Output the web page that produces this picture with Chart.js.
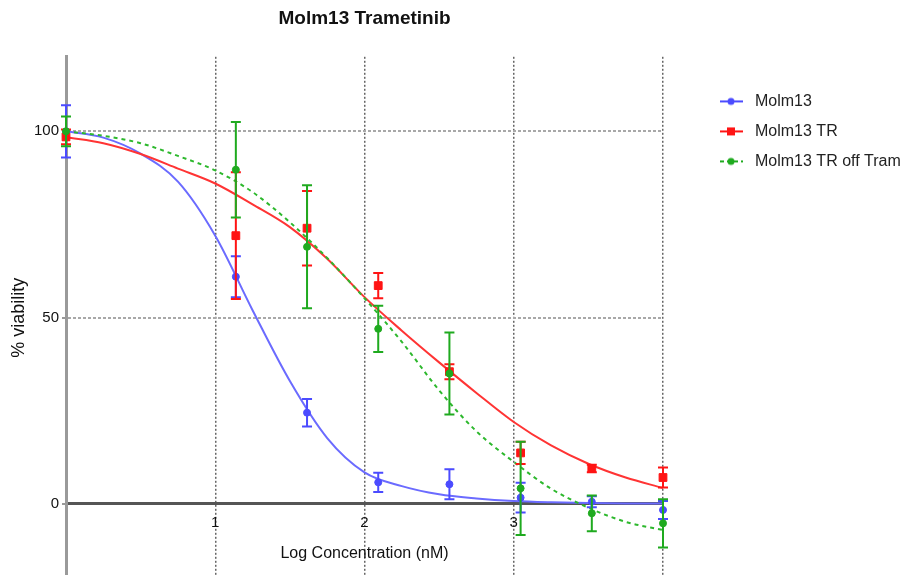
<!DOCTYPE html>
<html>
<head>
<meta charset="utf-8">
<script src="https://cdn.jsdelivr.net/npm/chart.js@4.4.1/dist/chart.umd.min.js"></script>
<style>
  html, body { margin: 0; padding: 0; background: #fff; overflow: hidden; }
  #wrap { position: relative; width: 902px; height: 585px; }
</style>
</head>
<body>
<div id="wrap"><canvas id="chart"></canvas></div>
<script>
// measured points (log nM) with SD
const logConc = [0, 1.138, 1.615, 2.092, 2.569, 3.046, 3.523, 4.0];

const molm13 = [100, 61, 24.5, 5.8, 5.3, 1.7, 0.6, -1.6];
const molm13Err = [7, 5.5, 3.7, 2.6, 4, 4, 1.5, 2.4];

const molm13TR = [98.5, 72, 74, 58.6, 35.5, 13.7, 9.5, 7.1];
const molm13TRErr = [2, 17, 10, 3.4, 2, 3, 1, 2.7];

const molm13Off = [100, 89.7, 69, 47, 35, 4.2, -2.5, -5.2];
const molm13OffErr = [4, 12.8, 16.5, 6.2, 11, 12.5, 4.8, 6.5];

// fitted curves
const fitX = [0, 0.25, 0.5, 0.75, 1, 1.25, 1.5, 1.75, 2, 2.25, 2.5, 2.75, 3, 3.25, 3.5, 3.75, 4];
const molm13Fit = [100, 98.3, 94, 86.5, 72, 52, 33, 17.7, 8.5, 4.8, 2.6, 1.5, 0.8, 0.45, 0.25, 0.15, 0.1];
const molm13TRFit = [98.4, 96.8, 93.9, 90, 86, 80.4, 74.3, 65.8, 55.5, 46.5, 38, 29.8, 22, 15.7, 10.8, 7.1, 4.3];
const molm13OffFit = [100, 98.8, 96.8, 93.4, 89.5, 83.7, 75.6, 66, 55.2, 43.5, 30.5, 19.5, 11.3, 4.1, -1, -4.8, -7];

const seriesNames = ['Molm13', 'Molm13 TR', 'Molm13 TR off Tram'];
const xTickValues = [1, 2, 3, 4];
const xTickLabels = ['1', '2', '3', ''];
const yTickValues = [0, 50, 100];

const BLUE = '#4b4bff';
const RED = '#ff1414';
const GREEN = '#1faa1f';
const FONT = "'Liberation Sans', Arial, sans-serif";

const toPoints = (xs, ys) => xs.map((x, i) => ({ x, y: ys[i] }));

// legend icon: short line with the marker in the middle
const makeIcon = (color, style, dashed) => {
  const c = document.createElement('canvas');
  c.width = 70;
  c.height = 12;
  const g = c.getContext('2d');
  g.strokeStyle = color;
  g.fillStyle = color;
  g.lineWidth = 2;
  if (dashed) g.setLineDash([4, 3]);
  g.beginPath();
  g.moveTo(43, 6);
  g.lineTo(66, 6);
  g.stroke();
  g.setLineDash([]);
  if (style === 'rect') {
    g.fillRect(50, 2, 8, 8);
  } else {
    g.beginPath();
    g.arc(54, 6, 3.5, 0, Math.PI * 2);
    g.fill();
  }
  return c;
};

const legendIcons = [
  makeIcon(BLUE, 'circle', false),
  makeIcon(RED, 'rect', false),
  makeIcon(GREEN, 'circle', true),
];

const errorBars = {
  id: 'errorBars',
  beforeDatasetDraw(chart, args) {
    const ds = chart.data.datasets[args.index];
    if (!ds.errors) return;
    const { x, y } = chart.scales;
    const ctx = chart.ctx;
    ctx.save();
    ctx.strokeStyle = ds.borderColor;
    ctx.lineWidth = 2;
    ds.data.forEach((pt, i) => {
      const px = x.getPixelForValue(pt.x);
      const top = y.getPixelForValue(pt.y + ds.errors[i]);
      const bot = y.getPixelForValue(pt.y - ds.errors[i]);
      ctx.beginPath();
      ctx.moveTo(px, top);
      ctx.lineTo(px, bot);
      ctx.moveTo(px - 5, top);
      ctx.lineTo(px + 5, top);
      ctx.moveTo(px - 5, bot);
      ctx.lineTo(px + 5, bot);
      ctx.stroke();
    });
    ctx.restore();
  },
};

const pointSet = (label, ys, errs, color, style, radius, order) => ({
  type: 'scatter',
  label,
  data: toPoints(logConc, ys),
  errors: errs,
  showLine: false,
  pointStyle: style,
  pointRadius: radius,
  pointBackgroundColor: color,
  pointBorderColor: color,
  borderColor: color,
  backgroundColor: color,
  clip: false,
  order,
});

const curveSet = (label, ys, color, dash, order) => ({
  type: 'line',
  label,
  data: toPoints(fitX, ys),
  borderColor: color,
  borderWidth: 2,
  borderDash: dash,
  pointRadius: 0,
  cubicInterpolationMode: 'monotone',
  fill: false,
  order,
});

const datasets = [
  pointSet(seriesNames[0], molm13, molm13Err, BLUE, 'circle', 3.5, 3),
  pointSet(seriesNames[1], molm13TR, molm13TRErr, RED, 'rect', 5.5, 2),
  pointSet(seriesNames[2], molm13Off, molm13OffErr, GREEN, 'circle', 3.5, 1),
  curveSet('fit1', molm13Fit, '#6b6bff', [], 6),
  curveSet('fit2', molm13TRFit, '#ff3434', [], 5),
  curveSet('fit3', molm13OffFit, '#2db82d', [4, 4], 4),
];

Chart.defaults.font.family = FONT;
Chart.defaults.color = '#111';

new Chart(document.getElementById('chart'), {
  data: { datasets },
  plugins: [errorBars],
  options: {
    responsive: true,
    maintainAspectRatio: false,
    animation: false,
    layout: { padding: { left: 5, right: 0, top: 0, bottom: 0 } },
    scales: {
      x: {
        type: 'linear',
        position: { y: 0 },
        min: 0,
        max: 4,
        afterBuildTicks: (scale) => {
          scale.ticks = xTickValues.map((value) => ({ value }));
        },
        afterFit: (scale) => {
          scale.paddingLeft = 0;
          scale.paddingRight = 0;
        },
        ticks: {
          callback: (value) => xTickLabels[xTickValues.indexOf(value)] ?? '',
          font: { size: 15 },
          padding: 10,
          maxRotation: 0,
          color: '#111',
        },
        grid: { color: '#666', lineWidth: 1.5, drawTicks: false },
        border: { color: '#555', width: 3, dash: [2, 2] },
        title: {
          display: true,
          text: 'Log Concentration (nM)',
          font: { size: 16 },
          padding: { top: 2, bottom: 4 },
          color: '#111',
        },
      },
      y: {
        type: 'linear',
        position: 'left',
        min: -20,
        max: 120,
        afterBuildTicks: (scale) => {
          scale.ticks = yTickValues.map((value) => ({ value }));
        },
        afterFit: (scale) => {
          scale.width = 61;
          scale.paddingTop = 0;
          scale.paddingBottom = 0;
        },
        ticks: { font: { size: 15 }, padding: 3, color: '#111' },
        grid: {
          color: (ctx) => (ctx.tick && ctx.tick.value === 0 ? 'rgba(0,0,0,0)' : '#a8a8a8'),
          lineWidth: 2,
          tickLength: 4,
          tickColor: '#999',
        },
        border: { color: '#9a9a9a', width: 3, dash: [3, 2] },
        title: {
          display: true,
          text: '% viability',
          font: { size: 18 },
          padding: { top: 3, bottom: 4 },
          color: '#111',
        },
      },
    },
    plugins: {
      title: {
        display: true,
        text: 'Molm13 Trametinib',
        fullSize: false,
        font: { size: 19, weight: 'bold' },
        padding: { top: 7, bottom: 27 },
        color: '#111',
      },
      legend: {
        position: 'right',
        align: 'start',
        fullSize: false,
        maxWidth: 239,
        title: { display: true, text: ' ', font: { size: 10 }, padding: { top: 5, bottom: 5.6 } },
        labels: {
          usePointStyle: true,
          pointStyleWidth: 70,
          padding: 14,
          font: { size: 16 },
          color: '#222',
          filter: (item) => item.datasetIndex < 3,
          sort: (a, b) => a.datasetIndex - b.datasetIndex,
          generateLabels: (chart) =>
            Chart.defaults.plugins.legend.labels.generateLabels(chart).map((item) => ({
              ...item,
              pointStyle: legendIcons[item.datasetIndex] || item.pointStyle,
            })),
        },
      },
      tooltip: { enabled: false },
    },
  },
});
</script>
</body>
</html>
